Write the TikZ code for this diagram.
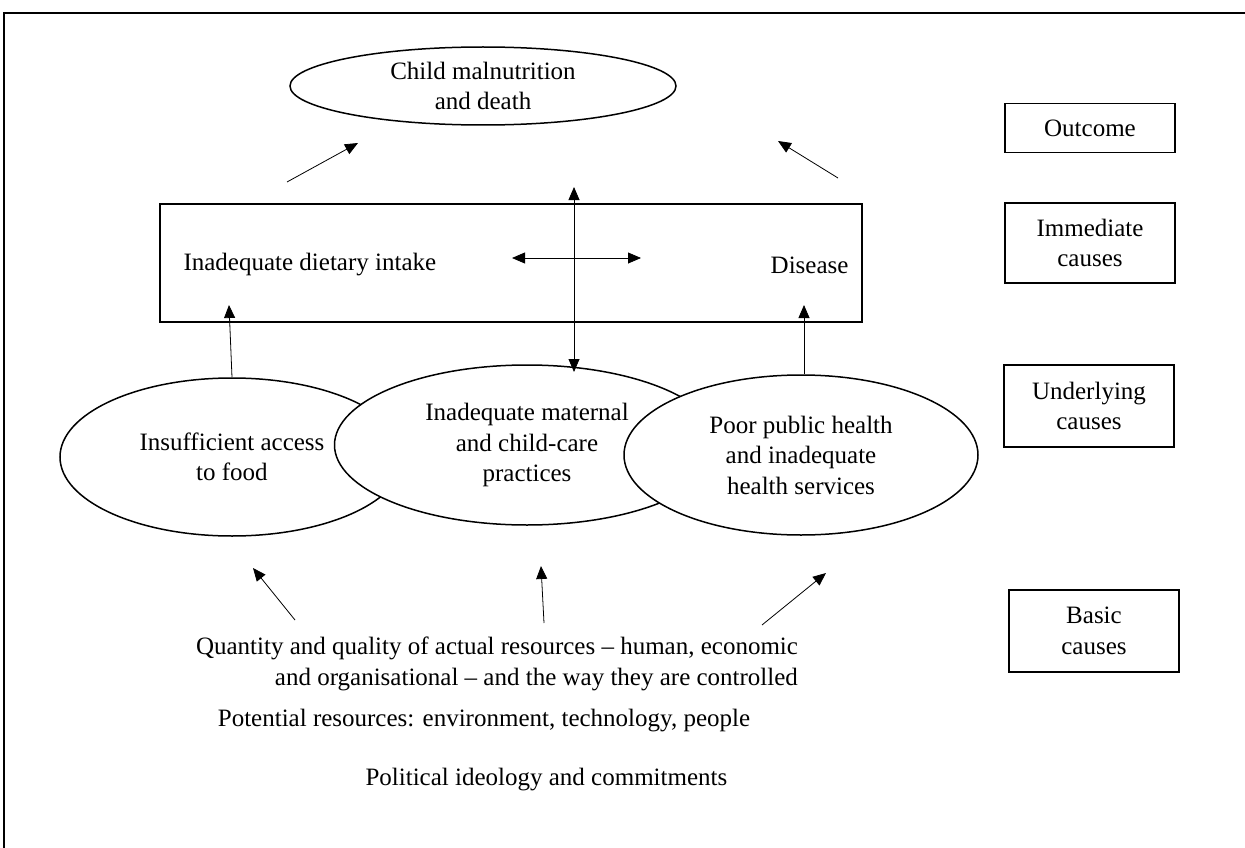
\documentclass[tikz,border=0pt]{standalone}
\usepackage{fontspec}
\setmainfont{Liberation Serif}
\usepackage{tikz}
\usetikzlibrary{shapes.geometric, arrows.meta}
\tikzstyle{outcome} = [ellipse, minimum width=386pt, minimum height=78pt, inner sep=0pt,
                       align=center, draw=black, fill=white, line width=1.5pt]
\tikzstyle{cause} = [ellipse, inner sep=0pt, align=center, draw=black, fill=white, line width=1.5pt]
\tikzstyle{level} = [rectangle, minimum width=170pt, text centered, align=center,
                     draw=black, line width=1.5pt]
\tikzstyle{basic} = [align=right]
\tikzstyle{arrow} = [line width=0.8pt, -{Triangle[length=13pt, width=11pt]}]
\tikzstyle{darrow} = [line width=0.8pt, {Triangle[length=13pt, width=11pt]}-{Triangle[length=13pt, width=11pt]}]

\begin{document}
\begin{tikzpicture}[x=1pt, y=-1pt, every node/.style={font=\fontsize{25}{30.5}\selectfont}]

\useasboundingbox (0,0) rectangle (1245,848);
% page frame
\draw [line width=1.5pt] (4,848) -- (4,13) -- (1245,13);

% levels on the right
\node (outc) [level, minimum height=49pt] at (1090,128) {Outcome};
\node (imml) [level, minimum height=80pt] at (1090,243) {Immediate\\causes};
\node (undl) [level, minimum height=82pt] at (1089,406) {Underlying\\causes};
\node (basl) [level, minimum height=82pt] at (1094,631) {Basic\\causes};

% outcome and immediate causes
\node (death) [outcome] at (483,86) {Child malnutrition\\and death};
\node (imm) [rectangle, draw=black, line width=1.5pt, minimum width=702pt, minimum height=118pt] at (511,263) {};
\node (diet) [anchor=west] at (180,265) {Inadequate dietary intake};
\node (disease) [anchor=east] at (852,265) {Disease};

% underlying causes
\node (food) [cause, minimum width=344pt, minimum height=158pt] at (232,457) {Insufficient access\\to food};
\node (care) [cause, minimum width=385pt, minimum height=160pt] at (527,445) {Inadequate maternal\\and child-care\\practices};
\node (health) [cause, minimum width=354pt, minimum height=160pt] at (801,455) {Poor public health\\and inadequate\\health services};

% basic causes
\node (res) [basic] at (497,664) {Quantity and quality of actual resources -- human, economic\\and organisational -- and the way they are controlled};
\node (pot) at (484,721) {Potential resources: environment, technology, people};
\node (pol) [anchor=west] at (362,780) {Political ideology and commitments};

% arrow ends
\coordinate (dl0) at (287,182);
\coordinate (dl1) at (358,143);
\coordinate (dr0) at (838,178);
\coordinate (dr1) at (778,141);
\coordinate (vt) at (574,187);
\coordinate (vb) at (574,372);
\coordinate (hl) at (512,258);
\coordinate (hr) at (641,258);
\coordinate (dietin) at (229,305);
\coordinate (disin) at (804,305);
\coordinate (bl0) at (295,620);
\coordinate (bl1) at (253,568);
\coordinate (bm0) at (544,623);
\coordinate (bm1) at (541,566);
\coordinate (br0) at (762,625);
\coordinate (br1) at (826,573);

\draw [arrow] (dl0) -- (dl1);
\draw [arrow] (dr0) -- (dr1);
\draw [darrow] (vt) -- (vb);
\draw [darrow] (hl) -- (hr);
\draw [arrow] (food.north) -- (dietin);
\draw [arrow] (health.north -| disin) -- (disin);
\draw [arrow] (bl0) -- (bl1);
\draw [arrow] (bm0) -- (bm1);
\draw [arrow] (br0) -- (br1);

\end{tikzpicture}
\end{document}
